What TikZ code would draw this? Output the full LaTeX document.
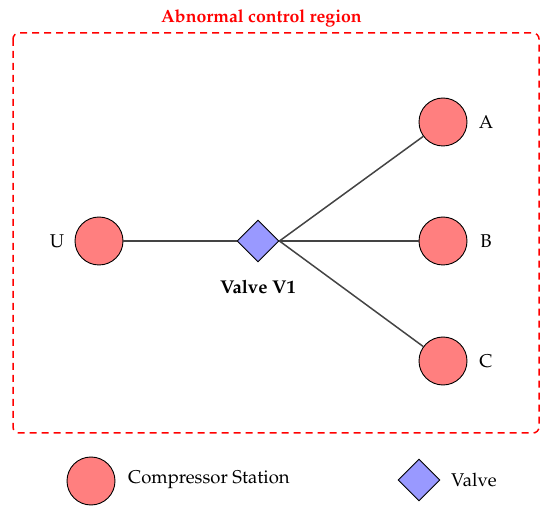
\documentclass[tikz,border=0pt]{standalone}
\usepackage[T1]{fontenc}
\usepackage{mathpazo}
\usetikzlibrary{shapes.geometric}
\definecolor{stationred}{HTML}{FF7F7F}
\definecolor{valveblue}{HTML}{9999FF}
\definecolor{linegray}{HTML}{444444}
\definecolor{regionred}{HTML}{FF0000}
\tikzset{
  station/.style={circle, draw=black, fill=stationred, line width=0.9pt, minimum size=48pt, inner sep=0pt},
  valvenode/.style={diamond, draw=black, fill=valveblue, line width=0.9pt, minimum size=42pt, inner sep=0pt, aspect=1},
  pipe/.style={draw=linegray, line width=1.5pt},
  lbl/.style={font=\fontsize{18.5}{22}\selectfont, inner sep=0pt},
  boldlbl/.style={font=\fontsize{18.5}{22}\selectfont\bfseries, inner sep=0pt},
  titlelbl/.style={font=\fontsize{17.7}{21}\selectfont\bfseries, inner sep=0pt},
  region/.style={draw=regionred, dashed, dash pattern=on 7pt off 5pt, line width=1.5pt, rounded corners=6pt}
}
\begin{document}
\begin{tikzpicture}[x=1pt,y=-1pt]
\useasboundingbox (0,0) rectangle (550,516);
\draw[region] (13,33) rectangle (539,433);
\node[titlelbl, text=regionred] (title) at (261.5,18) {Abnormal control region};
\node[station] (U) at (99,241) {};
\node[valvenode] (V) at (258,241) {};
\node[station] (A) at (443,122) {};
\node[station] (B) at (443,241) {};
\node[station] (C) at (443,361) {};
\node[lbl] (Ul) at (57,241) {U};
\node[lbl] (Al) at (486,122) {A};
\node[lbl] (Bl) at (486,241) {B};
\node[lbl] (Cl) at (486,361) {C};
\node[boldlbl] (Vl) at (258,287) {Valve V1};
\draw[pipe] (U) -- (V.west);
\draw[pipe] (V.east) -- (A);
\draw[pipe] (V.east) -- (B);
\draw[pipe] (V.east) -- (C);
\node[station] (legS) at (91,481) {};
\node[lbl, anchor=west] (legSl) at (128,480) {Compressor Station};
\node[valvenode] (legV) at (419,480) {};
\node[lbl, anchor=west] (legVl) at (451,480) {Valve};
\end{tikzpicture}
\end{document}
